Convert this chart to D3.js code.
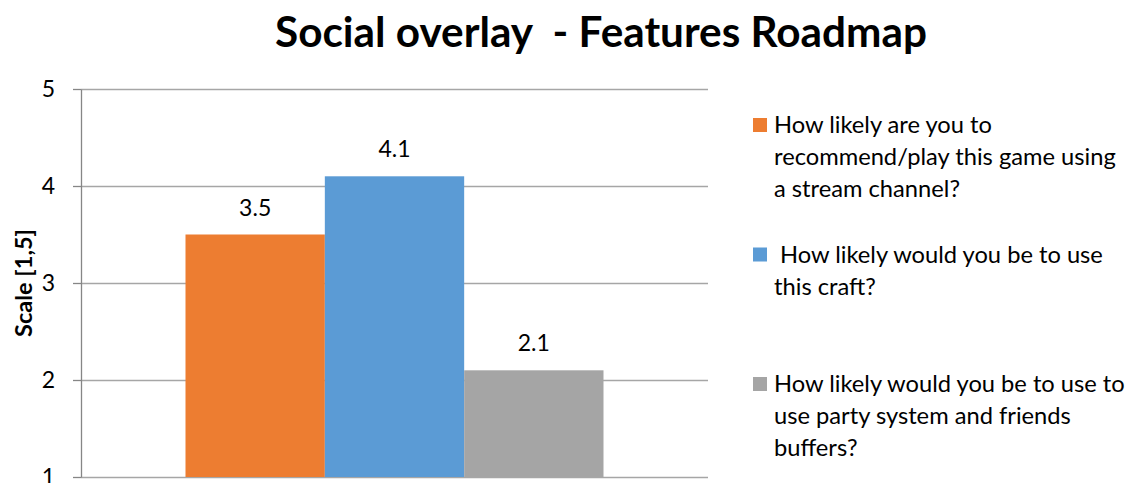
<!DOCTYPE html>
<html>
<head>
<meta charset="utf-8">
<script src="https://cdn.jsdelivr.net/npm/d3@7"></script>
<style>
    body { margin: 0; background: #fff; }
    text { font-family: Lato, "Open Sans", sans-serif; fill: #000; }
</style>
</head>
<body>
<div id="chart"></div>
<script>
// chart data
var series = ["recommend", "craft", "party"];
var values = [3.5, 4.1, 2.1];
var colors = ["#ED7D31", "#5B9BD5", "#A5A5A5"];
var legendLines = [
    ["How likely are you to", "recommend/play this game using", "a stream channel?"],
    [" How likely would you be to use", "this craft?"],
    ["How likely would you be to use to", "use party system and friends", "buffers?"]
];
var yTicks = [1, 2, 3, 4, 5];
var title = "Social overlay  - Features Roadmap";
var yTitle = "Scale [1,5]";

var width = 1132, height = 483;
var margin = { top: 89, right: 424, bottom: 6, left: 81 };

var svg = d3.select("#chart").append("svg")
    .attr("width", width)
    .attr("height", height);

// shrink / grow text until it has the wanted width
function fitText(sel, target) {
    var size = parseFloat(sel.style("font-size"));
    var w = sel.node().getComputedTextLength();
    sel.style("font-size", (size * target / w).toFixed(2) + "px");
}

// set the ranges
var x0 = d3.scaleBand()
    .domain(["q"])
    .range([margin.left, width - margin.right]);
var x1 = d3.scaleBand()
    .domain(series)
    .range([0, x0.bandwidth()])
    .paddingInner(0)
    .paddingOuter(0.75);
var y = d3.scaleLinear()
    .domain([1, 5])
    .range([height - margin.bottom, margin.top]);

// gridlines
svg.append("g")
    .attr("transform", "translate(" + margin.left + ",0)")
    .call(d3.axisLeft(y).tickValues(yTicks).tickSize(-(x0.range()[1] - margin.left)).tickFormat(""))
    .call(function (g) {
        g.select(".domain").remove();
        g.selectAll("line").attr("stroke", "#a6a6a6").attr("stroke-width", 1.3);
    });

// bars
svg.selectAll(".bar")
    .data(values)
    .enter().append("rect")
    .attr("class", "bar")
    .attr("x", function (d, i) { return x0("q") + x1(series[i]); })
    .attr("width", x1.bandwidth())
    .attr("y", function (d) { return y(d); })
    .attr("height", function (d) { return y(1) - y(d); })
    .attr("fill", function (d, i) { return colors[i]; });

// value labels
svg.selectAll(".val")
    .data(values)
    .enter().append("text")
    .attr("class", "val")
    .attr("x", function (d, i) { return x0("q") + x1(series[i]) + x1.bandwidth() / 2; })
    .attr("y", function (d) { return y(d) - 19; })
    .attr("text-anchor", "middle")
    .style("font-size", "23px")
    .text(function (d) { return d.toFixed(1); });

// y axis
var yAxis = svg.append("g")
    .attr("transform", "translate(" + margin.left + ",0)")
    .call(d3.axisLeft(y).tickValues(yTicks).tickFormat(d3.format("d")).tickSize(8).tickPadding(18).tickSizeOuter(0));
yAxis.select(".domain").attr("stroke", "#868686").attr("stroke-width", 1.3);
yAxis.selectAll(".tick line").attr("stroke", "#868686").attr("stroke-width", 1.3);
yAxis.selectAll(".tick text")
    .style("font-family", "Lato, sans-serif")
    .style("font-size", "23px")
    .attr("fill", "#000");

// y axis title
var yt = svg.append("text")
    .attr("transform", "translate(32," + (y(3)) + ") rotate(-90)")
    .attr("text-anchor", "middle")
    .attr("font-weight", "bold")
    .style("font-size", "18px")
    .text(yTitle);
fitText(yt, 108);

// title
var tt = svg.append("text")
    .attr("x", 601)
    .attr("y", 47)
    .attr("text-anchor", "middle")
    .attr("font-weight", "bold")
    .style("font-size", "36px")
    .style("white-space", "pre")
    .text(title);
fitText(tt, 652);

// legend
var legendX = 753, firstBase = 133, entryGap = 129.5, lineH = 32;
var legend = svg.selectAll(".legend")
    .data(legendLines)
    .enter().append("g")
    .attr("class", "legend")
    .attr("transform", function (d, i) { return "translate(" + legendX + "," + (firstBase + i * entryGap) + ")"; });

legend.append("rect")
    .attr("x", 0)
    .attr("y", -15)
    .attr("width", 14)
    .attr("height", 14)
    .attr("fill", function (d, i) { return colors[i]; });

var legendText = legend.append("text")
    .attr("x", 21)
    .style("font-size", "22px")
    .style("white-space", "pre");
legendText.selectAll("tspan")
    .data(function (d) { return d; })
    .enter().append("tspan")
    .attr("x", 21)
    .attr("y", function (d, i) { return i * lineH; })
    .text(function (d) { return d; });

// size legend so the widest line matches
var probe = legend.filter(function (d, i) { return i === 0; }).select("tspan:nth-child(2)").node();
var w = probe.getComputedTextLength();
legendText.style("font-size", (22 * 342 / w).toFixed(2) + "px");
</script>
</body>
</html>
